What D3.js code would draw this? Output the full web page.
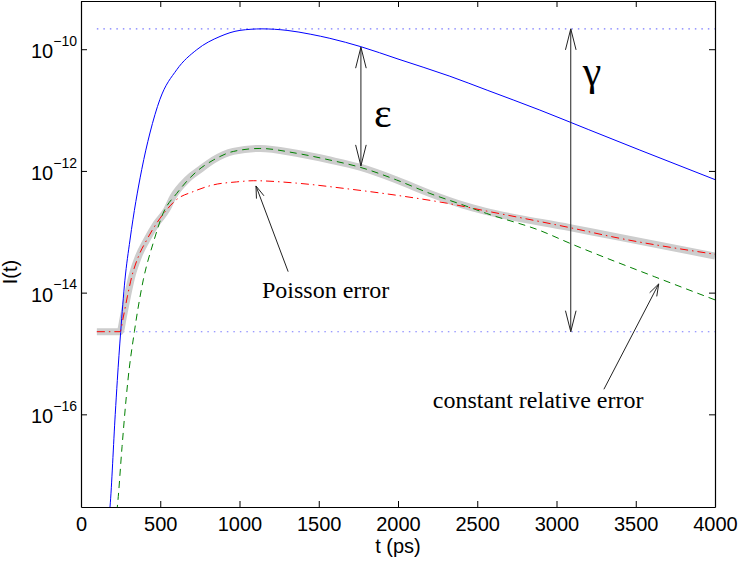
<!DOCTYPE html>
<html><head><meta charset="utf-8">
<script src="https://cdn.jsdelivr.net/npm/d3@7"></script>
<style>
html,body{margin:0;padding:0;background:#fff;}
svg{display:block;}
</style></head>
<body>
<svg id="chart" width="739" height="563"></svg>
<script>
// ---------- data ----------
const xTicks = [0, 500, 1000, 1500, 2000, 2500, 3000, 3500, 4000];
const yTicks = [1e-16, 1e-14, 1e-12, 1e-10];
const yTickExp = ["\u221216", "\u221214", "\u221212", "\u221210"];
const xDomain = [0, 4000];
const yDomain = [3e-18, 6.2e-10];

// solid blue signal
const blueT = [175, 183, 216, 229, 250, 277, 309, 383, 435, 498, 604, 730, 877, 1003, 1142, 1300, 1450, 1570, 1766, 2000, 2327, 2567, 2895, 3200, 3526, 4000];
const blueI = [1.8e-18, 3.0e-18, 1.0e-16, 3.6e-16, 2.2e-15, 1.6e-14, 7.3e-14, 1.05e-12, 4.2e-12, 1.5e-11, 4.6e-11, 9.8e-11, 1.62e-10, 2.04e-10, 2.16e-10, 2.04e-10, 1.76e-10, 1.51e-10, 1.10e-10, 6.9e-11, 3.6e-11, 2.1e-11, 1.0e-11, 4.8e-12, 2.2e-12, 7.2e-13];

// green dashed: constant relative error
const greenT = [215, 229, 259, 284, 296, 337, 393, 456, 519, 604, 730, 835, 961, 1129, 1360, 1570, 1760, 1991, 2201, 2411, 2559, 2895, 3095, 3620, 4000];
const greenI = [1.6e-18, 3.0e-18, 2.95e-17, 1.72e-16, 3.6e-16, 2.3e-15, 1.62e-14, 6.6e-14, 2.04e-13, 4.27e-13, 9.8e-13, 1.51e-12, 2.09e-12, 2.34e-12, 1.95e-12, 1.51e-12, 1.15e-12, 7.1e-13, 4.27e-13, 2.75e-13, 2.0e-13, 1.05e-13, 6.3e-14, 1.82e-14, 7.6e-15];

// red dash-dot: Poisson error
const redT = [100, 246, 267, 292, 320, 362, 414, 477, 540, 604, 708, 835, 982, 1087, 1360, 1676, 1991, 2307, 2559, 3084, 3400, 4000];
const redI = [2.28e-15, 2.28e-15, 3.98e-15, 8.5e-15, 1.82e-14, 3.9e-14, 7.3e-14, 1.38e-13, 2.29e-13, 3.4e-13, 4.57e-13, 5.9e-13, 6.6e-13, 6.9e-13, 6.3e-13, 5.1e-13, 3.98e-13, 2.95e-13, 2.19e-13, 1.17e-13, 7.8e-14, 4.27e-14];

// thick grey: total error
const grayT = [100, 246, 267, 292, 320, 362, 414, 477, 540, 582, 667, 750, 835, 961, 1129, 1360, 1570, 1760, 1991, 2201, 2411, 2548, 3084, 3400, 4000];
const grayI = [2.28e-15, 2.28e-15, 3.98e-15, 8.5e-15, 1.82e-14, 3.9e-14, 7.3e-14, 1.38e-13, 2.29e-13, 3.8e-13, 7.1e-13, 1.05e-12, 1.51e-12, 2.09e-12, 2.34e-12, 1.95e-12, 1.51e-12, 1.15e-12, 7.1e-13, 4.27e-13, 2.75e-13, 2.19e-13, 1.17e-13, 8.1e-14, 4.0e-14];

// dotted reference levels
const levelT = [100, 4000];
const levelI = [2.16e-10, 2.28e-15];

// annotations
const epsArrow = {t: 1766, top: 1.08e-10, bottom: 1.21e-12};
const gamArrow = {t: 3090, top: 2.16e-10, bottom: 2.28e-15};
const epsLabel = {t: 1848, v: 5.28e-12, text: "\u03b5"};
const gamLabel = {t: 3166, v: 2.59e-11, text: "\u03b3"};
const poissonArrow = {t0: 1307, v0: 2.21e-14, t1: 1104, v1: 5.66e-13};
const poissonLabel = {t: 1142, v: 8.05e-15, text: "Poisson error"};
const constArrow = {t0: 3299, v0: 2.58e-16, t1: 3645, v1: 1.39e-14};
const constLabel = {t: 2220, v: 1.26e-16, text: "constant relative error"};

// ---------- layout ----------
const L = 81, R = 715, T = 1, B = 507;
const svg = d3.select("#chart");
const x = d3.scaleLinear().domain(xDomain).range([L, R]);
const y = d3.scaleLog().domain(yDomain).range([B, T]);

svg.append("defs").append("clipPath").attr("id", "clip")
  .append("rect").attr("x", L).attr("y", T).attr("width", R - L).attr("height", B - T);

const plot = svg.append("g").attr("clip-path", "url(#clip)");
const line = d3.line().x(d => x(d[0])).y(d => y(d[1])).curve(d3.curveMonotoneX);
const zip = (a, b) => a.map((v, i) => [v, b[i]]);

// dotted levels
levelI.forEach(v => {
  plot.append("path").attr("d", line(levelT.map(t => [t, v])))
    .attr("fill", "none").attr("stroke", "#7a7aff").attr("stroke-width", 1.1)
    .attr("stroke-dasharray", "1.5,5");
});

plot.append("path").attr("d", line(zip(grayT, grayI)))
  .attr("fill", "none").attr("stroke", "#cdcdcd").attr("stroke-width", 7);
plot.append("path").attr("d", line(zip(blueT, blueI)))
  .attr("fill", "none").attr("stroke", "#0000ff").attr("stroke-width", 1);
plot.append("path").attr("d", line(zip(greenT, greenI)))
  .attr("fill", "none").attr("stroke", "#008000").attr("stroke-width", 1)
  .attr("stroke-dasharray", "7,5");
plot.append("path").attr("d", line(zip(redT, redI)))
  .attr("fill", "none").attr("stroke", "#ff0000").attr("stroke-width", 1)
  .attr("stroke-dasharray", "8,4,1.5,4");

// ---------- axes ----------
const axG = svg.append("g").attr("font-family", "'Liberation Sans', Arial, sans-serif");
const xb = axG.append("g").attr("transform", `translate(0,${B})`)
  .call(d3.axisBottom(x).tickValues(xTicks).tickSizeInner(-6).tickSizeOuter(0).tickPadding(10).tickFormat(d3.format("d")));
const xt = axG.append("g").attr("transform", `translate(0,${T})`)
  .call(d3.axisTop(x).tickValues(xTicks).tickSizeInner(-6).tickSizeOuter(0).tickFormat(""));
const yl = axG.append("g").attr("transform", `translate(${L},0)`)
  .call(d3.axisLeft(y).tickValues(yTicks).tickSizeInner(-6).tickSizeOuter(0).tickFormat(""));
const yr = axG.append("g").attr("transform", `translate(${R},0)`)
  .call(d3.axisRight(y).tickValues(yTicks).tickSizeInner(-6).tickSizeOuter(0).tickFormat(""));
[xb, xt, yl, yr].forEach(g => {
  g.select(".domain").attr("stroke", "#000").attr("stroke-width", 1.2);
  g.selectAll(".tick line").attr("stroke", "#000").attr("stroke-width", 1);
});
xb.selectAll(".tick text").attr("font-size", 20).attr("fill", "#000");

yTicks.forEach((v, i) => {
  const tx = axG.append("text").attr("x", 77).attr("y", y(v) + 9)
    .attr("text-anchor", "end").attr("fill", "#000");
  tx.append("tspan").attr("font-size", 20).text("10");
  tx.append("tspan").attr("font-size", 14).attr("dy", -12.3).text(yTickExp[i]);
});

axG.append("text").attr("x", 398).attr("y", 553).attr("text-anchor", "middle")
  .attr("font-size", 20).attr("fill", "#000").text("t (ps)");
axG.append("text").attr("transform", "translate(17,272) rotate(-90)").attr("text-anchor", "middle")
  .attr("font-size", 20).attr("fill", "#000").text("I(t)");

// ---------- annotations ----------
const ann = svg.append("g").attr("stroke", "#222").attr("fill", "none").attr("stroke-width", 1);
function head(x1, y1, x0, y0, len, hw) {
  const dx = x0 - x1, dy = y0 - y1, d = Math.hypot(dx, dy);
  const ux = dx / d, uy = dy / d;
  const bx = x1 + ux * len, by = y1 + uy * len;
  const px = -uy * hw, py = ux * hw;
  ann.append("path").attr("d", `M${bx + px},${by + py}L${x1},${y1}L${bx - px},${by - py}`);
}
function dbl(a) {
  const xx = x(a.t), y0 = y(a.top), y1 = y(a.bottom);
  ann.append("line").attr("x1", xx).attr("x2", xx).attr("y1", y0).attr("y2", y1);
  head(xx, y0, xx, y1, 21, 5.3);
  head(xx, y1, xx, y0, 21, 5.3);
}
dbl(epsArrow);
dbl(gamArrow);
function single(a) {
  const x0 = x(a.t0), y0 = y(a.v0), x1 = x(a.t1), y1 = y(a.v1);
  ann.append("line").attr("x1", x0).attr("y1", y0).attr("x2", x1).attr("y2", y1);
  head(x1, y1, x0, y0, 12, 4);
}
single(poissonArrow);
single(constArrow);

const tg = svg.append("g").attr("font-family", "'Liberation Serif', 'Times New Roman', serif").attr("fill", "#000");
tg.append("text").attr("x", x(epsLabel.t)).attr("y", y(epsLabel.v)).attr("font-size", 42).text(epsLabel.text);
tg.append("text").attr("x", x(gamLabel.t)).attr("y", y(gamLabel.v)).attr("font-size", 42).text(gamLabel.text);
tg.append("text").attr("x", x(poissonLabel.t)).attr("y", y(poissonLabel.v)).attr("font-size", 24).text(poissonLabel.text);
tg.append("text").attr("x", x(constLabel.t)).attr("y", y(constLabel.v)).attr("font-size", 24).text(constLabel.text);
</script>
</body></html>
